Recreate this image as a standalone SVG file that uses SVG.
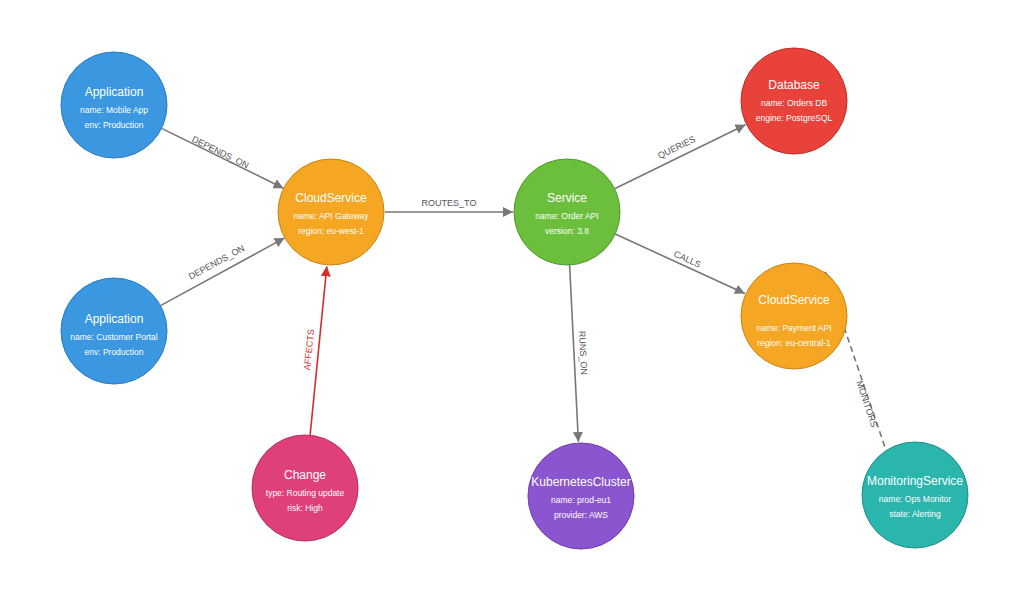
<svg xmlns="http://www.w3.org/2000/svg" width="1024" height="603" viewBox="0 0 1024 603">
<defs>
<marker id="ag" viewBox="0 0 10 10" refX="10" refY="5" markerWidth="10" markerHeight="10" markerUnits="userSpaceOnUse" orient="auto"><path d="M0,0L10,5L0,10z" fill="#777"/></marker>
<marker id="ar" viewBox="0 0 10 10" refX="10" refY="5" markerWidth="10" markerHeight="10" markerUnits="userSpaceOnUse" orient="auto"><path d="M0,0L10,5L0,10z" fill="#d32f2f"/></marker>
<style>
.e{stroke:#777;stroke-width:1.6;fill:none}
.el{font-family:"Liberation Sans",Arial,sans-serif;font-size:9px;fill:#555;text-anchor:middle}
.t{font-family:"Liberation Sans",Arial,sans-serif;font-size:12px;fill:#fff;text-anchor:middle}
.p{font-family:"Liberation Sans",Arial,sans-serif;font-size:8.5px;fill:#fff;text-anchor:middle}
.blue{fill:#3a97e0;stroke:#2a7bc0}
.orange{fill:#f5a623;stroke:#c98516}
.green{fill:#6cbf3c;stroke:#4e9a2a}
.red{fill:#e8423a;stroke:#c02c25}
.pink{fill:#e0407a;stroke:#b92d61}
.purple{fill:#8a55cf;stroke:#6c3db0}
.teal{fill:#2ab5ad;stroke:#1d8f88}
</style>
</defs>
<rect width="1024" height="603" fill="#fff"/>
<g id="connectors">
<line class="e" x1="161.6" y1="128.4" x2="283.5" y2="188.2" marker-end="url(#ag)"/>
<text class="el" transform="translate(219,155) rotate(26.1)">DEPENDS_ON</text>
<line class="e" x1="160.5" y1="305.6" x2="284.6" y2="237.9" marker-end="url(#ag)"/>
<text class="el" transform="translate(218,265) rotate(-28.6)">DEPENDS_ON</text>
<line class="e" x1="385" y1="212" x2="513" y2="212" marker-end="url(#ag)"/>
<text class="el" x="449" y="206">ROUTES_TO</text>
<line class="e" x1="614.6" y1="188.7" x2="745.5" y2="124.7" marker-end="url(#ag)"/>
<text class="el" transform="translate(678,150) rotate(-26)">QUERIES</text>
<line class="e" x1="615.2" y1="234" x2="744.9" y2="293.5" marker-end="url(#ag)"/>
<text class="el" transform="translate(686,262) rotate(24.6)">CALLS</text>
<line class="e" x1="569.6" y1="265" x2="578.4" y2="442" marker-end="url(#ag)"/>
<text class="el" transform="translate(580,353) rotate(87.2)">RUNS_ON</text>
<line x1="310.1" y1="435.3" x2="326.8" y2="266.3" stroke="#d32f2f" stroke-width="1.6" marker-end="url(#ar)"/>
<text class="el" style="fill:#d32f2f" transform="translate(312,350) rotate(-84.4)">AFFECTS</text>
<line class="e" x1="884.7" y1="446.5" x2="825.2" y2="271.7" stroke-dasharray="6,4" marker-end="url(#ag)"/>
<text class="el" transform="translate(864,405) rotate(-108.8) rotate(180)">MONITORS</text>
</g>
<g id="app1"><circle class="blue" cx="114" cy="105" r="53"/><text class="t" x="114" y="96">Application</text><text class="p" x="114" y="113">name: Mobile App</text><text class="p" x="114" y="128">env: Production</text></g>
<g id="app2"><circle class="blue" cx="114" cy="331" r="53"/><text class="t" x="114" y="323">Application</text><text class="p" x="114" y="340">name: Customer Portal</text><text class="p" x="114" y="355">env: Production</text></g>
<g id="gateway"><circle class="orange" cx="331" cy="212" r="53"/><text class="t" x="331" y="202">CloudService</text><text class="p" x="331" y="219">name: API Gateway</text><text class="p" x="331" y="234">region: eu-west-1</text></g>
<g id="service"><circle class="green" cx="567" cy="212" r="53"/><text class="t" x="567" y="202">Service</text><text class="p" x="567" y="219">name: Order API</text><text class="p" x="567" y="234">version: 3.8</text></g>
<g id="database"><circle class="red" cx="794" cy="101" r="53"/><text class="t" x="794" y="89">Database</text><text class="p" x="794" y="106">name: Orders DB</text><text class="p" x="794" y="121">engine: PostgreSQL</text></g>
<g id="payment"><circle class="orange" cx="794" cy="316" r="53"/><text class="t" x="794" y="304">CloudService</text><text class="p" x="794" y="331">name: Payment API</text><text class="p" x="794" y="346">region: eu-central-1</text></g>
<g id="change"><circle class="pink" cx="305" cy="488" r="53"/><text class="t" x="305" y="479">Change</text><text class="p" x="305" y="496">type: Routing update</text><text class="p" x="305" y="511">risk: High</text></g>
<g id="k8s"><circle class="purple" cx="581" cy="496" r="53"/><text class="t" x="581" y="486">KubernetesCluster</text><text class="p" x="581" y="503">name: prod-eu1</text><text class="p" x="581" y="518">provider: AWS</text></g>
<g id="monitor"><circle class="teal" cx="915" cy="495" r="53"/><text class="t" x="915" y="485">MonitoringService</text><text class="p" x="915" y="502">name: Ops Monitor</text><text class="p" x="915" y="517">state: Alerting</text></g>
</svg>
